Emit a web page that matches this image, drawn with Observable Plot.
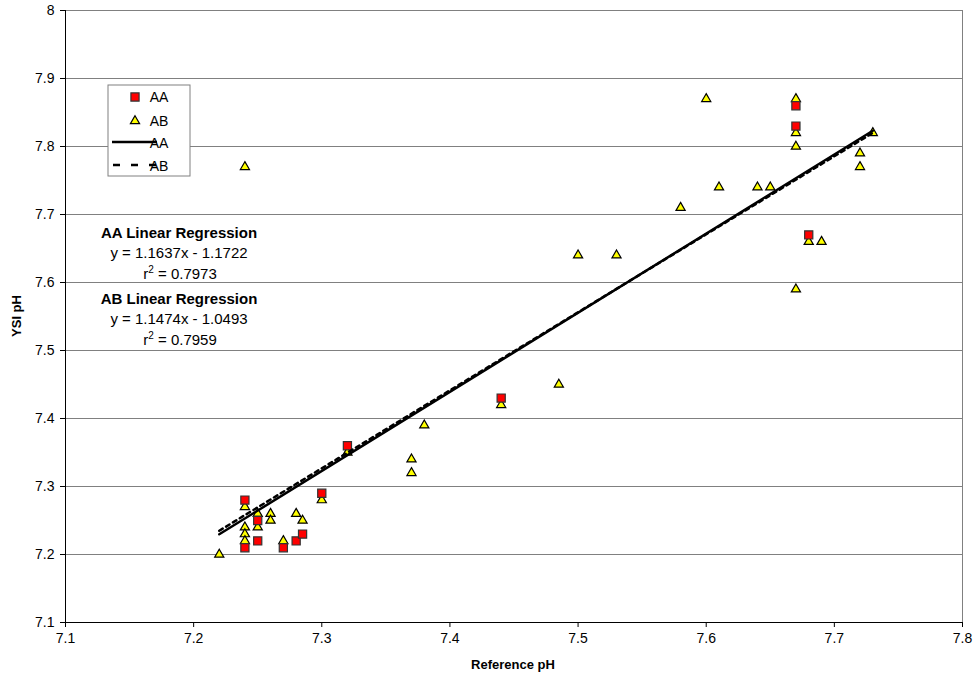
<!DOCTYPE html>
<html>
<head>
<meta charset="utf-8">
<script src="https://cdn.jsdelivr.net/npm/d3@7"></script>
<script src="https://cdn.jsdelivr.net/npm/@observablehq/plot@0.6"></script>
<style>
  html, body { margin: 0; padding: 0; background: #fff; }
  #chart svg { font-family: "Liberation Sans", Arial, sans-serif; }
</style>
</head>
<body>
<div id="chart"></div>
<script>
// --- Data ---
const aaX = [7.24, 7.24, 7.25, 7.25, 7.27, 7.28, 7.285, 7.30, 7.32, 7.44, 7.67, 7.67, 7.68];
const aaY = [7.28, 7.21, 7.25, 7.22, 7.21, 7.22, 7.23, 7.29, 7.36, 7.43, 7.86, 7.83, 7.67];

const abX = [7.22, 7.24, 7.24, 7.24, 7.24, 7.24, 7.25, 7.25, 7.26, 7.26, 7.27, 7.28, 7.285, 7.30, 7.32,
             7.37, 7.37, 7.38, 7.44, 7.485, 7.50, 7.53, 7.58, 7.60, 7.61, 7.64, 7.65,
             7.67, 7.67, 7.67, 7.67, 7.68, 7.69, 7.72, 7.72, 7.73];
const abY = [7.20, 7.27, 7.24, 7.23, 7.22, 7.77, 7.26, 7.24, 7.26, 7.25, 7.22, 7.26, 7.25, 7.28, 7.35,
             7.34, 7.32, 7.39, 7.42, 7.45, 7.64, 7.64, 7.71, 7.87, 7.74, 7.74, 7.74,
             7.87, 7.82, 7.80, 7.59, 7.66, 7.66, 7.79, 7.77, 7.82];

// Regression lines (coefficients as shown on chart), drawn over the data x-range
const regRange = [7.22, 7.73];
const aaSlope = 1.1637, aaIntercept = -1.1722, aaR2 = 0.7973;
const abSlope = 1.1474, abIntercept = -1.0493, abR2 = 0.7959;

const xTicks = [7.1, 7.2, 7.3, 7.4, 7.5, 7.6, 7.7, 7.8];
const yTicks = [7.1, 7.2, 7.3, 7.4, 7.5, 7.6, 7.7, 7.8, 7.9, 8.0];

const aa = aaX.map((x, i) => ({x, y: aaY[i]}));
const ab = abX.map((x, i) => ({x, y: abY[i]}));
const aaLine = regRange.map(x => ({x, y: aaSlope * x + aaIntercept}));
const abLine = regRange.map(x => ({x, y: abSlope * x + abIntercept}));

const fmt = d => String(+d.toFixed(1));
const triR = 3.4, sqR = 4.6;

const plot = Plot.plot({
  width: 977,
  height: 681,
  marginLeft: 65,
  marginRight: 15,
  marginTop: 10,
  marginBottom: 59,
  style: {fontFamily: '"Liberation Sans", Arial, sans-serif', fontSize: "14px", background: "#fff", overflow: "visible"},
  x: {domain: [7.1, 7.8]},
  y: {domain: [7.1, 8.0]},
  marks: [
    Plot.ruleY(yTicks.filter(d => d > 7.1), {stroke: "#808080", strokeWidth: 1}),
    Plot.frame({stroke: "#808080", strokeWidth: 1}),
    Plot.ruleX([7.1], {stroke: "#000", strokeWidth: 1}),
    Plot.ruleY([7.1], {stroke: "#000", strokeWidth: 1}),
    Plot.axisX({ticks: xTicks, tickFormat: fmt, tickSize: 5, tickPadding: 6, label: null, fontSize: 14}),
    Plot.axisY({ticks: yTicks, tickFormat: fmt, tickSize: 5, tickPadding: 6, label: null, fontSize: 14}),
    Plot.dot(ab, {x: "x", y: "y", symbol: "triangle", r: triR, fill: "#ffff00", stroke: "#000", strokeWidth: 1.2}),
    Plot.dot(aa, {x: "x", y: "y", symbol: "square", r: sqR, fill: "#ff0000", stroke: "#333", strokeWidth: 1.2}),
    Plot.line(aaLine, {x: "x", y: "y", stroke: "#000", strokeWidth: 2.5}),
    Plot.line(abLine, {x: "x", y: "y", stroke: "#000", strokeWidth: 2.5, strokeDasharray: "4,4"})
  ]
});

document.getElementById("chart").appendChild(plot);

// --- Annotations: axis titles, legend, regression text ---
const svg = d3.select(plot);
const font = '"Liberation Sans", Arial, sans-serif';

svg.append("text")
  .attr("x", 513).attr("y", 669)
  .attr("text-anchor", "middle")
  .attr("font-family", font).attr("font-size", 13).attr("font-weight", "bold")
  .attr("fill", "#000")
  .text("Reference pH");

svg.append("text")
  .attr("transform", "translate(21,316) rotate(-90)")
  .attr("text-anchor", "middle")
  .attr("font-family", font).attr("font-size", 13).attr("font-weight", "bold")
  .attr("fill", "#000")
  .text("YSI pH");

// Legend
const lg = svg.append("g");
lg.append("rect").attr("x", 108).attr("y", 85).attr("width", 82).attr("height", 91)
  .attr("fill", "#fff").attr("stroke", "#808080").attr("stroke-width", 1);
lg.append("path").attr("d", d3.symbol(d3.symbolSquare, Math.PI * sqR * sqR)())
  .attr("transform", "translate(135,97)").attr("fill", "#ff0000").attr("stroke", "#333").attr("stroke-width", 1.2);
lg.append("path").attr("d", d3.symbol(d3.symbolTriangle, Math.PI * triR * triR)())
  .attr("transform", "translate(135,121)").attr("fill", "#ffff00").attr("stroke", "#000").attr("stroke-width", 1.2);
lg.append("line").attr("x1", 112).attr("x2", 157).attr("y1", 142).attr("y2", 142)
  .attr("stroke", "#000").attr("stroke-width", 2.5);
lg.append("line").attr("x1", 113).attr("x2", 156).attr("y1", 165).attr("y2", 165)
  .attr("stroke", "#000").attr("stroke-width", 2.5).attr("stroke-dasharray", "7,11");
const legendLabels = ["AA", "AB", "AA", "AB"];
const legendY = [97, 121, 143, 166];
legendLabels.forEach((t, i) => {
  lg.append("text").attr("x", 159).attr("y", legendY[i]).attr("dy", "0.35em")
    .attr("font-family", font).attr("font-size", 14).attr("fill", "#000").text(t);
});

// Regression text
function regBlock(cx, y0, title, slope, intercept, r2) {
  const g = svg.append("g").attr("font-family", font).attr("font-size", 15).attr("fill", "#000").attr("text-anchor", "middle");
  g.append("text").attr("x", cx).attr("y", y0).attr("font-weight", "bold").attr("font-size", 15).text(title);
  g.append("text").attr("x", cx).attr("y", y0 + 20)
    .text(`y = ${slope.toFixed(4)}x - ${Math.abs(intercept).toFixed(4)}`);
  const t = g.append("text").attr("x", cx + 1).attr("y", y0 + 41);
  t.append("tspan").text("r");
  t.append("tspan").attr("dy", -6).attr("font-size", 10).text("2");
  t.append("tspan").attr("dy", 6).text(` = ${r2.toFixed(4)}`);
}
regBlock(179, 238, "AA Linear Regression", aaSlope, aaIntercept, aaR2);
regBlock(179, 304, "AB Linear Regression", abSlope, abIntercept, abR2);
</script>
</body>
</html>
